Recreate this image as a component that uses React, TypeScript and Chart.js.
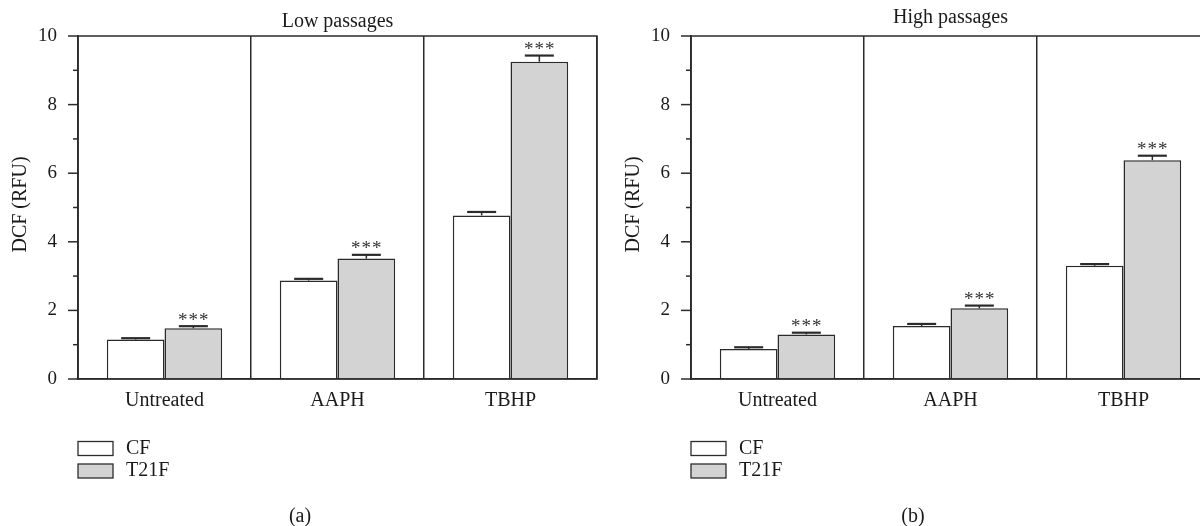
import React, { useEffect, useRef } from 'react';
import { Chart, registerables } from 'chart.js';

Chart.register(...registerables);

// ---- data ----
const categories = ['Untreated', 'AAPH', 'TBHP'];
const seriesNames = ['CF', 'T21F'];
const yTickLabels = [0, 2, 4, 6, 8, 10];
const significance = ['***', '***', '***'];

const lowCF = [1.15, 2.87, 4.77];
const lowCFErr = [0.04, 0.05, 0.1];
const lowT21F = [1.48, 3.51, 9.25];
const lowT21FErr = [0.06, 0.11, 0.18];

const highCF = [0.875, 1.545, 3.3];
const highCFErr = [0.05, 0.06, 0.05];
const highT21F = [1.3, 2.06, 6.38];
const highT21FErr = [0.05, 0.08, 0.13];

// ---- styles ----
const FONT = '"Liberation Serif", "DejaVu Serif", "Times New Roman", serif';
const INK = '#1a1a1a';
const LINE = '#2b2b2b';
const FILLS = ['#ffffff', '#d3d3d3'];

type PanelProps = {
  title: string;
  label: string;
  titleY: number;
  cf: number[];
  cfErr: number[];
  t21: number[];
  t21Err: number[];
};

function Panel({ title, label, titleY, cf, cfErr, t21, t21Err }: PanelProps) {
  const ref = useRef<HTMLCanvasElement | null>(null);

  useEffect(() => {
    if (!ref.current) return;

    const panelPlugin = {
      id: 'panelDecor',
      afterDatasetsDraw(chart: any) {
        const ctx = chart.ctx;
        const y = chart.scales.y;
        ctx.save();
        chart.data.datasets.forEach((ds: any, di: number) => {
          const meta = chart.getDatasetMeta(di);
          meta.data.forEach((bar: any, i: number) => {
            const v = ds.data[i];
            const e = ds.errors[i];
            const yTop = y.getPixelForValue(v);
            const yCap = y.getPixelForValue(v + e);
            ctx.strokeStyle = LINE;
            ctx.lineWidth = 1.5;
            ctx.beginPath();
            ctx.moveTo(bar.x, yTop);
            ctx.lineTo(bar.x, yCap);
            ctx.stroke();
            ctx.lineWidth = 2.2;
            ctx.beginPath();
            ctx.moveTo(bar.x - 14.5, yCap);
            ctx.lineTo(bar.x + 14.5, yCap);
            ctx.stroke();
            if (ds.stars && ds.stars[i]) {
              ctx.fillStyle = '#333';
              ctx.font = `19px ${FONT}`;
              ctx.textAlign = 'center';
              ctx.textBaseline = 'alphabetic';
              (ctx as any).letterSpacing = '1px';
              ctx.fillText(ds.stars[i], bar.x + 0.5, yCap - 0.5);
              (ctx as any).letterSpacing = '0px';
            }
          });
        });
        ctx.restore();
      },
      afterDraw(chart: any) {
        const ctx = chart.ctx;
        const a = chart.chartArea;
        const y = chart.scales.y;
        ctx.save();
        // frame (top / right)
        ctx.strokeStyle = LINE;
        ctx.lineWidth = 1.5;
        ctx.strokeRect(a.left, a.top, a.right - a.left, a.bottom - a.top);
        // y ticks, major / minor, outward
        y.ticks.forEach((t: any) => {
          const py = y.getPixelForValue(t.value);
          const len = yTickLabels.includes(t.value) ? 10 : 5;
          ctx.beginPath();
          ctx.moveTo(a.left - len, py);
          ctx.lineTo(a.left, py);
          ctx.stroke();
        });
        // title
        ctx.fillStyle = INK;
        ctx.font = `20px ${FONT}`;
        ctx.textAlign = 'center';
        ctx.textBaseline = 'alphabetic';
        ctx.fillText(title, (a.left + a.right) / 2, titleY);
        // y-axis title
        ctx.save();
        ctx.translate(21, (a.top + a.bottom) / 2 - 3);
        ctx.rotate(-Math.PI / 2);
        ctx.textBaseline = 'middle';
        ctx.fillText('DCF (RFU)', 0, 0);
        ctx.restore();
        // legend
        const centers = [448.5, 471];
        seriesNames.forEach((name, i) => {
          const cy = centers[i];
          ctx.fillStyle = FILLS[i];
          ctx.fillRect(a.left, cy - 7, 35, 14);
          ctx.strokeStyle = LINE;
          ctx.lineWidth = 1.3;
          ctx.strokeRect(a.left, cy - 7, 35, 14);
          ctx.fillStyle = INK;
          ctx.font = `20px ${FONT}`;
          ctx.textAlign = 'left';
          ctx.textBaseline = 'middle';
          ctx.fillText(name, a.left + 48, cy);
        });
        // panel label
        ctx.textAlign = 'center';
        ctx.textBaseline = 'middle';
        ctx.fillText(label, 300, 517);
        ctx.restore();
      },
    };

    const chart = new Chart(ref.current, {
      type: 'bar',
      data: {
        labels: categories,
        datasets: [
          {
            label: seriesNames[0],
            data: cf,
            errors: cfErr,
            backgroundColor: FILLS[0],
            borderColor: LINE,
            borderWidth: 1.5,
            categoryPercentage: 0.667,
            barPercentage: 1,
          } as any,
          {
            label: seriesNames[1],
            data: t21,
            errors: t21Err,
            stars: significance,
            backgroundColor: FILLS[1],
            borderColor: LINE,
            borderWidth: 1.5,
            categoryPercentage: 0.667,
            barPercentage: 1,
          } as any,
        ],
      },
      options: {
        animation: false,
        responsive: false,
        maintainAspectRatio: false,
        devicePixelRatio: 1,
        layout: { padding: { left: 0, right: 3, top: 36, bottom: 107 } },
        plugins: {
          legend: { display: false },
          tooltip: { enabled: false },
          title: { display: false },
        },
        scales: {
          x: {
            offset: true,
            grid: { color: LINE, lineWidth: 1.5, drawTicks: false, offset: true },
            border: { color: LINE, width: 1.5 },
            ticks: { font: { family: FONT, size: 20 }, color: INK, padding: 10, maxRotation: 0 },
            afterFit: (s: any) => {
              s.height = 40;
            },
          },
          y: {
            min: 0,
            max: 10,
            grid: { drawOnChartArea: false, drawTicks: false },
            border: { color: LINE, width: 1.5 },
            ticks: {
              stepSize: 1,
              autoSkip: false,
              font: { family: FONT, size: 19 },
              color: INK,
              padding: 21,
              callback: (v: any) => (yTickLabels.includes(Number(v)) ? String(v) : ''),
            },
            afterFit: (s: any) => {
              s.width = 78;
            },
          },
        },
      } as any,
      plugins: [panelPlugin],
    });
    return () => chart.destroy();
  }, [title, label, titleY, cf, cfErr, t21, t21Err]);

  return <canvas ref={ref} width={600} height={526} style={{ width: 600, height: 526, display: 'block' }} />;
}

export default function App() {
  return (
    <div
      style={{
        position: 'fixed',
        left: 0,
        top: 0,
        width: 1200,
        height: 526,
        overflow: 'hidden',
        background: '#ffffff',
      }}
    >
      <div style={{ position: 'absolute', left: 0, top: 0 }}>
        <Panel title="Low passages" label="(a)" titleY={27} cf={lowCF} cfErr={lowCFErr} t21={lowT21F} t21Err={lowT21FErr} />
      </div>
      <div style={{ position: 'absolute', left: 613, top: 0 }}>
        <Panel title="High passages" label="(b)" titleY={23} cf={highCF} cfErr={highCFErr} t21={highT21F} t21Err={highT21FErr} />
      </div>
    </div>
  );
}
